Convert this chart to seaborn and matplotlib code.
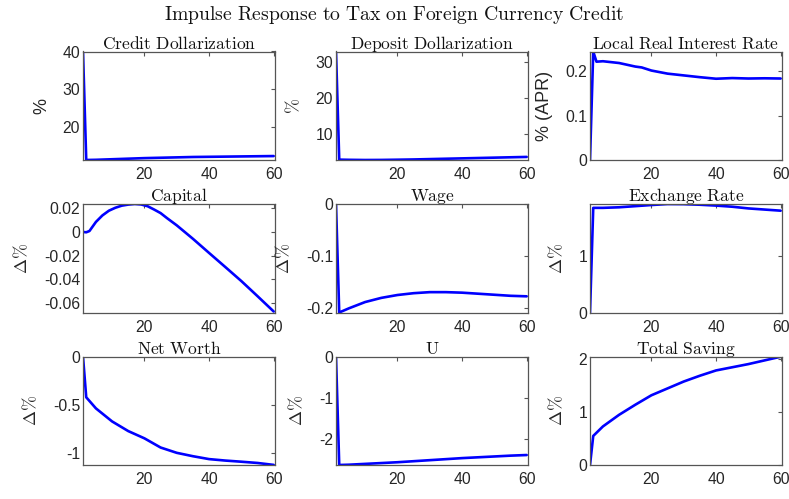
import numpy as np
import pandas as pd
import seaborn as sns
import matplotlib.pyplot as plt

t_std = [1, 2, 5, 10, 15, 20, 25, 30, 35, 40, 45, 50, 55, 60]

credit_dollar = [40.0, 11.1, 11.15, 11.3, 11.45, 11.6, 11.7, 11.8, 11.9, 11.95, 12.0, 12.05, 12.1, 12.15]
deposit_dollar = [32.8, 2.9, 2.85, 2.8, 2.82, 2.88, 2.95, 3.05, 3.15, 3.25, 3.35, 3.45, 3.55, 3.65]

t_rate = [1, 2, 3, 5, 10, 15, 17, 20, 25, 30, 35, 40, 45, 50, 55, 60]
real_rate = [0.0, 0.245, 0.222, 0.223, 0.219, 0.211, 0.209, 0.202, 0.195, 0.191, 0.187, 0.1835, 0.185, 0.184, 0.1845, 0.184]

t_cap = [1, 2, 3, 5, 7, 9, 11, 13, 15, 17, 19, 21, 23, 25, 27, 30, 35, 40, 45, 50, 55, 60]
capital = [0.0, -0.0003, 0.0008, 0.0085, 0.014, 0.018, 0.0205, 0.0223, 0.0232, 0.0237, 0.0233, 0.0218, 0.019, 0.016,
           0.0117, 0.0056, -0.0058, -0.0178, -0.0297, -0.0417, -0.0545, -0.0675]

wage = [0.0, -0.208, -0.2, -0.188, -0.18, -0.1745, -0.171, -0.169, -0.169, -0.17, -0.172, -0.174, -0.176, -0.177]
exch_rate = [0.0, 1.85, 1.85, 1.86, 1.88, 1.9, 1.917, 1.915, 1.905, 1.89, 1.87, 1.84, 1.82, 1.80]
net_worth = [0.0, -0.42, -0.535, -0.67, -0.77, -0.845, -0.94, -0.995, -1.03, -1.06, -1.075, -1.087, -1.1, -1.12]
u_resp = [0.0, -2.627, -2.62, -2.6, -2.58, -2.56, -2.535, -2.51, -2.485, -2.46, -2.44, -2.42, -2.4, -2.385]
total_saving = [0.0, 0.55, 0.73, 0.95, 1.14, 1.32, 1.45, 1.58, 1.69, 1.79, 1.85, 1.91, 1.98, 2.05]

titles = ["Credit Dollarization", "Deposit Dollarization", "Local Real Interest Rate",
          "Capital", "Wage", "Exchange Rate", "Net Worth", "U", "Total Saving"]
ylabels = ["%", r"$\%$", "% (APR)"] + [r"$\Delta\%$"] * 6

panels = [
    (t_std, credit_dollar), (t_std, deposit_dollar), (t_rate, real_rate),
    (t_cap, capital), (t_std, wage), (t_std, exch_rate),
    (t_std, net_worth), (t_std, u_resp), (t_std, total_saving),
]
yticks = [[20, 30, 40], [10, 20, 30], [0, 0.1, 0.2],
          [-0.06, -0.04, -0.02, 0, 0.02], [-0.2, -0.1, 0], [0, 1],
          [-1, -0.5, 0], [-2, -1, 0], [0, 1, 2]]
yticklabels = [["20", "30", "40"], ["10", "20", "30"], ["0", "0.1", "0.2"],
               ["-0.06", "-0.04", "-0.02", "0", "0.02"], ["-0.2", "-0.1", "0"], ["0", "1"],
               ["-1", "-0.5", "0"], ["-2", "-1", "0"], ["0", "1", "2"]]
ylims = [(11.1, 40), (2.8, 32.8), (0, 0.245), (-0.0685, 0.0237), (-0.2084, 0),
         (0, 1.918), (-1.121, 0), (-2.627, 0), (0, 2.05)]

sns.set_style("white")
plt.rcParams['font.family'] = ['Liberation Sans', 'DejaVu Sans']
plt.rcParams['mathtext.fontset'] = 'cm'

fig = plt.figure(figsize=(7.89, 4.99), dpi=100)
W, H = 789, 499
col_x = [83, 336, 590]
col_w = 192
row_y = [51.5, 204, 356.7]
row_h = [108.5, 108.7, 108.3]

grey = '#555555'
for i, (title, (tx, vals)) in enumerate(zip(titles, panels)):
    r, c = divmod(i, 3)
    ax = fig.add_axes([col_x[c] / W, 1 - (row_y[r] + row_h[r]) / H, col_w / W, row_h[r] / H])
    df = pd.DataFrame({"t": tx, "v": vals})
    sns.lineplot(data=df, x="t", y="v", ax=ax, color=(0, 0, 1), linewidth=1.9)
    ax.set_xlim(1, 60.4)
    ax.set_ylim(*ylims[i])
    ax.set_xticks([20, 40, 60])
    ax.set_xticklabels(["20", "40", "60"])
    ax.set_yticks(yticks[i])
    ax.set_yticklabels(yticklabels[i])
    ax.tick_params(direction='in', length=3, width=0.8, colors=grey, labelcolor='#262626',
                   labelsize=11.3, top=True, right=True)
    ax.tick_params(axis='y', pad=2)
    ax.tick_params(axis='x', pad=5)
    for s in ax.spines.values():
        s.set_color(grey)
        s.set_linewidth(0.9)
    ax.set_xlabel("")
    ax.set_ylabel(ylabels[i], fontsize=13, color='#262626', labelpad=9)
    ax.set_title(r"$\mathrm{" + title.replace(" ", r"\ ") + "}$", fontsize=12.6, pad=2, color='#111111')

fig.text(0.5, 1 - 15 / H, r"$\mathrm{Impulse\ Response\ to\ Tax\ on\ Foreign\ Currency\ Credit}$",
         ha='center', va='center', fontsize=14.2, color='#111111')

fig.savefig("out.png", dpi=100)
